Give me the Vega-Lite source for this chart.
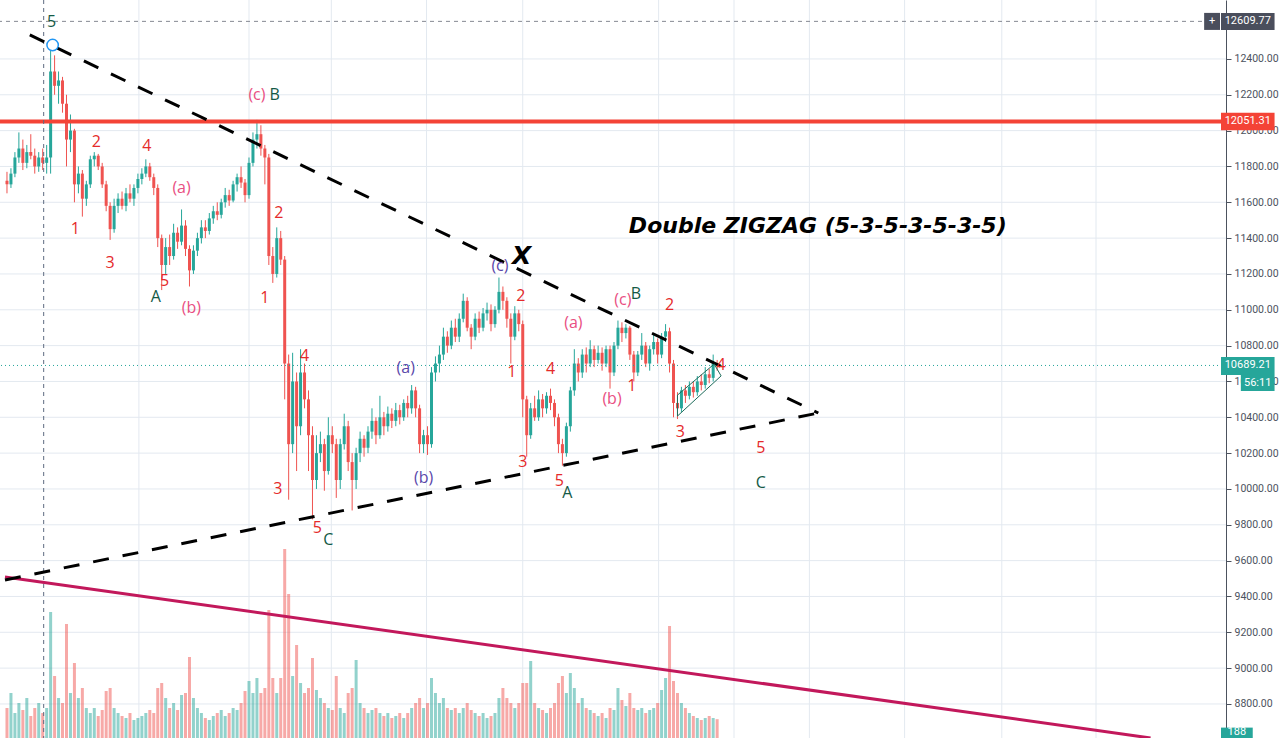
{
"$schema": "https://vega.github.io/schema/vega-lite/v6.json",
"width": 1226, "height": 738,
"padding": {"left": 0, "top": 0, "right": 54, "bottom": 0},
"autosize": {"type": "none"},
"background": "white",
"config": {"view": {"stroke": null}},
"datasets": {
"k": [
{"i":0,"o":11720,"h":11770,"l":11650,"c":11700,"v":300},
{"i":1,"o":11700,"h":11790,"l":11680,"c":11760,"v":450},
{"i":2,"o":11760,"h":11880,"l":11740,"c":11850,"v":250},
{"i":3,"o":11850,"h":11990,"l":11820,"c":11900,"v":350},
{"i":4,"o":11900,"h":11950,"l":11780,"c":11820,"v":280},
{"i":5,"o":11820,"h":11920,"l":11790,"c":11880,"v":400},
{"i":6,"o":11880,"h":11980,"l":11840,"c":11860,"v":220},
{"i":7,"o":11860,"h":11900,"l":11760,"c":11800,"v":300},
{"i":8,"o":11800,"h":11880,"l":11770,"c":11850,"v":350},
{"i":9,"o":11850,"h":11900,"l":11780,"c":11820,"v":250},
{"i":10,"o":11820,"h":11920,"l":11760,"c":11850,"v":300},
{"i":11,"o":11850,"h":12478,"l":11760,"c":12330,"v":1260},
{"i":12,"o":12330,"h":12420,"l":12200,"c":12250,"v":620},
{"i":13,"o":12250,"h":12330,"l":12150,"c":12280,"v":400},
{"i":14,"o":12280,"h":12300,"l":12100,"c":12150,"v":350},
{"i":15,"o":12150,"h":12200,"l":11800,"c":11950,"v":1140},
{"i":16,"o":11950,"h":12090,"l":11880,"c":12000,"v":450},
{"i":17,"o":12000,"h":12010,"l":11600,"c":11700,"v":750},
{"i":18,"o":11700,"h":11800,"l":11650,"c":11760,"v":400},
{"i":19,"o":11760,"h":11780,"l":11520,"c":11620,"v":500},
{"i":20,"o":11620,"h":11720,"l":11580,"c":11700,"v":300},
{"i":21,"o":11700,"h":11860,"l":11680,"c":11840,"v":250},
{"i":22,"o":11840,"h":11880,"l":11800,"c":11860,"v":300},
{"i":23,"o":11860,"h":11870,"l":11780,"c":11800,"v":220},
{"i":24,"o":11800,"h":11820,"l":11680,"c":11700,"v":280},
{"i":25,"o":11700,"h":11720,"l":11550,"c":11580,"v":470},
{"i":26,"o":11580,"h":11600,"l":11390,"c":11450,"v":500},
{"i":27,"o":11450,"h":11620,"l":11430,"c":11580,"v":300},
{"i":28,"o":11580,"h":11650,"l":11540,"c":11620,"v":250},
{"i":29,"o":11620,"h":11660,"l":11560,"c":11580,"v":220},
{"i":30,"o":11580,"h":11680,"l":11550,"c":11650,"v":200},
{"i":31,"o":11650,"h":11700,"l":11600,"c":11620,"v":250},
{"i":32,"o":11620,"h":11700,"l":11580,"c":11680,"v":180},
{"i":33,"o":11680,"h":11760,"l":11650,"c":11730,"v":200},
{"i":34,"o":11730,"h":11790,"l":11700,"c":11760,"v":220},
{"i":35,"o":11760,"h":11840,"l":11740,"c":11800,"v":250},
{"i":36,"o":11800,"h":11820,"l":11720,"c":11740,"v":280},
{"i":37,"o":11740,"h":11760,"l":11640,"c":11680,"v":250},
{"i":38,"o":11680,"h":11700,"l":11350,"c":11400,"v":500},
{"i":39,"o":11400,"h":11420,"l":11110,"c":11250,"v":550},
{"i":40,"o":11250,"h":11400,"l":11200,"c":11350,"v":400},
{"i":41,"o":11350,"h":11420,"l":11250,"c":11300,"v":300},
{"i":42,"o":11300,"h":11480,"l":11280,"c":11430,"v":350},
{"i":43,"o":11430,"h":11460,"l":11340,"c":11380,"v":280},
{"i":44,"o":11380,"h":11560,"l":11360,"c":11470,"v":430},
{"i":45,"o":11470,"h":11500,"l":11300,"c":11340,"v":450},
{"i":46,"o":11340,"h":11360,"l":11130,"c":11220,"v":810},
{"i":47,"o":11220,"h":11360,"l":11200,"c":11330,"v":400},
{"i":48,"o":11330,"h":11430,"l":11300,"c":11400,"v":300},
{"i":49,"o":11400,"h":11500,"l":11370,"c":11460,"v":250},
{"i":50,"o":11460,"h":11500,"l":11400,"c":11440,"v":200},
{"i":51,"o":11440,"h":11540,"l":11420,"c":11510,"v":180},
{"i":52,"o":11510,"h":11580,"l":11480,"c":11550,"v":220},
{"i":53,"o":11550,"h":11600,"l":11500,"c":11530,"v":250},
{"i":54,"o":11530,"h":11620,"l":11510,"c":11600,"v":280},
{"i":55,"o":11600,"h":11680,"l":11570,"c":11640,"v":220},
{"i":56,"o":11640,"h":11670,"l":11580,"c":11610,"v":250},
{"i":57,"o":11610,"h":11720,"l":11600,"c":11700,"v":300},
{"i":58,"o":11700,"h":11760,"l":11660,"c":11740,"v":280},
{"i":59,"o":11740,"h":11800,"l":11680,"c":11710,"v":350},
{"i":60,"o":11710,"h":11730,"l":11600,"c":11640,"v":470},
{"i":61,"o":11640,"h":11850,"l":11620,"c":11820,"v":570},
{"i":62,"o":11820,"h":11990,"l":11800,"c":11950,"v":450},
{"i":63,"o":11950,"h":12060,"l":11900,"c":11980,"v":600},
{"i":64,"o":11980,"h":12030,"l":11860,"c":11900,"v":450},
{"i":65,"o":11900,"h":11920,"l":11700,"c":11850,"v":500},
{"i":66,"o":11850,"h":11870,"l":11250,"c":11300,"v":1280},
{"i":67,"o":11300,"h":11350,"l":11150,"c":11200,"v":600},
{"i":68,"o":11200,"h":11460,"l":11180,"c":11400,"v":450},
{"i":69,"o":11400,"h":11440,"l":11250,"c":11280,"v":600},
{"i":70,"o":11280,"h":11300,"l":10500,"c":10700,"v":1890},
{"i":71,"o":10700,"h":10750,"l":9940,"c":10250,"v":1440},
{"i":72,"o":10250,"h":10760,"l":10200,"c":10600,"v":620},
{"i":73,"o":10600,"h":10650,"l":10100,"c":10350,"v":930},
{"i":74,"o":10350,"h":10780,"l":10300,"c":10650,"v":550},
{"i":75,"o":10650,"h":10700,"l":10450,"c":10500,"v":450},
{"i":76,"o":10500,"h":10550,"l":10100,"c":10300,"v":500},
{"i":77,"o":10300,"h":10350,"l":9830,"c":10050,"v":800},
{"i":78,"o":10050,"h":10300,"l":10000,"c":10200,"v":480},
{"i":79,"o":10200,"h":10320,"l":10150,"c":10250,"v":400},
{"i":80,"o":10250,"h":10280,"l":9990,"c":10100,"v":350},
{"i":81,"o":10100,"h":10400,"l":10080,"c":10300,"v":300},
{"i":82,"o":10300,"h":10350,"l":10200,"c":10250,"v":280},
{"i":83,"o":10250,"h":10280,"l":9950,"c":10050,"v":620},
{"i":84,"o":10050,"h":10280,"l":10000,"c":10250,"v":300},
{"i":85,"o":10250,"h":10420,"l":10220,"c":10350,"v":250},
{"i":86,"o":10350,"h":10380,"l":10100,"c":10150,"v":450},
{"i":87,"o":10150,"h":10200,"l":9880,"c":10050,"v":500},
{"i":88,"o":10050,"h":10230,"l":10000,"c":10200,"v":780},
{"i":89,"o":10200,"h":10320,"l":10150,"c":10280,"v":350},
{"i":90,"o":10280,"h":10300,"l":10180,"c":10230,"v":300},
{"i":91,"o":10230,"h":10350,"l":10200,"c":10320,"v":250},
{"i":92,"o":10320,"h":10450,"l":10280,"c":10380,"v":280},
{"i":93,"o":10380,"h":10400,"l":10250,"c":10300,"v":300},
{"i":94,"o":10300,"h":10520,"l":10280,"c":10400,"v":250},
{"i":95,"o":10400,"h":10430,"l":10300,"c":10350,"v":220},
{"i":96,"o":10350,"h":10460,"l":10320,"c":10420,"v":250},
{"i":97,"o":10420,"h":10450,"l":10340,"c":10380,"v":200},
{"i":98,"o":10380,"h":10480,"l":10350,"c":10440,"v":220},
{"i":99,"o":10440,"h":10470,"l":10360,"c":10400,"v":250},
{"i":100,"o":10400,"h":10500,"l":10380,"c":10480,"v":200},
{"i":101,"o":10480,"h":10520,"l":10400,"c":10450,"v":250},
{"i":102,"o":10450,"h":10580,"l":10420,"c":10550,"v":300},
{"i":103,"o":10550,"h":10570,"l":10400,"c":10450,"v":350},
{"i":104,"o":10450,"h":10470,"l":10200,"c":10250,"v":400},
{"i":105,"o":10250,"h":10330,"l":10200,"c":10300,"v":300},
{"i":106,"o":10300,"h":10350,"l":10190,"c":10250,"v":350},
{"i":107,"o":10250,"h":10680,"l":10230,"c":10650,"v":600},
{"i":108,"o":10650,"h":10740,"l":10600,"c":10700,"v":450},
{"i":109,"o":10700,"h":10800,"l":10650,"c":10750,"v":350},
{"i":110,"o":10750,"h":10900,"l":10720,"c":10850,"v":400},
{"i":111,"o":10850,"h":10880,"l":10760,"c":10800,"v":300},
{"i":112,"o":10800,"h":10940,"l":10780,"c":10900,"v":280},
{"i":113,"o":10900,"h":10950,"l":10820,"c":10850,"v":300},
{"i":114,"o":10850,"h":10980,"l":10820,"c":10950,"v":250},
{"i":115,"o":10950,"h":11090,"l":10930,"c":11050,"v":300},
{"i":116,"o":11050,"h":11070,"l":10880,"c":10900,"v":350},
{"i":117,"o":10900,"h":10920,"l":10780,"c":10850,"v":280},
{"i":118,"o":10850,"h":10980,"l":10830,"c":10950,"v":250},
{"i":119,"o":10950,"h":10990,"l":10870,"c":10900,"v":220},
{"i":120,"o":10900,"h":11010,"l":10880,"c":10980,"v":250},
{"i":121,"o":10980,"h":11040,"l":10940,"c":11000,"v":200},
{"i":122,"o":11000,"h":11030,"l":10880,"c":10920,"v":220},
{"i":123,"o":10920,"h":11020,"l":10900,"c":11000,"v":250},
{"i":124,"o":11000,"h":11180,"l":10980,"c":11100,"v":400},
{"i":125,"o":11100,"h":11130,"l":11000,"c":11050,"v":500},
{"i":126,"o":11050,"h":11070,"l":10900,"c":10950,"v":400},
{"i":127,"o":10950,"h":10980,"l":10700,"c":10850,"v":350},
{"i":128,"o":10850,"h":11020,"l":10830,"c":10980,"v":300},
{"i":129,"o":10980,"h":11000,"l":10880,"c":10920,"v":350},
{"i":130,"o":10920,"h":10940,"l":10400,"c":10500,"v":550},
{"i":131,"o":10500,"h":10520,"l":10180,"c":10300,"v":550},
{"i":132,"o":10300,"h":10480,"l":10280,"c":10450,"v":770},
{"i":133,"o":10450,"h":10520,"l":10380,"c":10400,"v":350},
{"i":134,"o":10400,"h":10550,"l":10380,"c":10500,"v":300},
{"i":135,"o":10500,"h":10530,"l":10400,"c":10450,"v":280},
{"i":136,"o":10450,"h":10540,"l":10420,"c":10520,"v":250},
{"i":137,"o":10520,"h":10560,"l":10440,"c":10480,"v":300},
{"i":138,"o":10480,"h":10500,"l":10350,"c":10400,"v":350},
{"i":139,"o":10400,"h":10420,"l":10200,"c":10250,"v":550},
{"i":140,"o":10250,"h":10280,"l":10130,"c":10200,"v":620},
{"i":141,"o":10200,"h":10370,"l":10180,"c":10350,"v":450},
{"i":142,"o":10350,"h":10570,"l":10320,"c":10550,"v":650},
{"i":143,"o":10550,"h":10780,"l":10520,"c":10700,"v":500},
{"i":144,"o":10700,"h":10730,"l":10600,"c":10650,"v":350},
{"i":145,"o":10650,"h":10780,"l":10620,"c":10750,"v":400},
{"i":146,"o":10750,"h":10790,"l":10650,"c":10700,"v":300},
{"i":147,"o":10700,"h":10830,"l":10680,"c":10780,"v":280},
{"i":148,"o":10780,"h":10800,"l":10680,"c":10720,"v":250},
{"i":149,"o":10720,"h":10800,"l":10700,"c":10760,"v":220},
{"i":150,"o":10760,"h":10790,"l":10660,"c":10700,"v":250},
{"i":151,"o":10700,"h":10800,"l":10680,"c":10780,"v":200},
{"i":152,"o":10780,"h":10800,"l":10560,"c":10650,"v":300},
{"i":153,"o":10650,"h":10820,"l":10630,"c":10800,"v":280},
{"i":154,"o":10800,"h":10940,"l":10780,"c":10900,"v":500},
{"i":155,"o":10900,"h":10930,"l":10820,"c":10870,"v":380},
{"i":156,"o":10870,"h":10920,"l":10840,"c":10900,"v":320},
{"i":157,"o":10900,"h":10910,"l":10720,"c":10750,"v":450},
{"i":158,"o":10750,"h":10770,"l":10600,"c":10650,"v":300},
{"i":159,"o":10650,"h":10770,"l":10630,"c":10750,"v":280},
{"i":160,"o":10750,"h":10870,"l":10720,"c":10800,"v":300},
{"i":161,"o":10800,"h":10820,"l":10680,"c":10700,"v":250},
{"i":162,"o":10700,"h":10800,"l":10660,"c":10780,"v":280},
{"i":163,"o":10780,"h":10860,"l":10750,"c":10820,"v":300},
{"i":164,"o":10820,"h":10840,"l":10700,"c":10750,"v":350},
{"i":165,"o":10750,"h":10870,"l":10730,"c":10850,"v":480},
{"i":166,"o":10850,"h":10920,"l":10820,"c":10880,"v":600},
{"i":167,"o":10880,"h":10900,"l":10650,"c":10700,"v":1120},
{"i":168,"o":10700,"h":10720,"l":10400,"c":10480,"v":570},
{"i":169,"o":10480,"h":10540,"l":10390,"c":10450,"v":450},
{"i":170,"o":10450,"h":10570,"l":10430,"c":10550,"v":350},
{"i":171,"o":10550,"h":10580,"l":10480,"c":10520,"v":300},
{"i":172,"o":10520,"h":10600,"l":10500,"c":10570,"v":250},
{"i":173,"o":10570,"h":10600,"l":10510,"c":10540,"v":220},
{"i":174,"o":10540,"h":10630,"l":10520,"c":10600,"v":200},
{"i":175,"o":10600,"h":10640,"l":10550,"c":10580,"v":180},
{"i":176,"o":10580,"h":10680,"l":10560,"c":10640,"v":200},
{"i":177,"o":10640,"h":10670,"l":10590,"c":10620,"v":220},
{"i":178,"o":10620,"h":10750,"l":10600,"c":10700,"v":200},
{"i":179,"o":10700,"h":10720,"l":10660,"c":10689.21,"v":188}
],
"labels": [
{"i":11.25,"p":12606,"t":"5","g":"major"},
{"i":63,"p":12199,"t":"(c)","g":"sub"},
{"i":67.5,"p":12199,"t":"B","g":"major"},
{"i":22.5,"p":11936,"t":"2","g":"minor"},
{"i":35.25,"p":11914,"t":"4","g":"minor"},
{"i":44,"p":11680,"t":"(a)","g":"sub"},
{"i":17.25,"p":11451,"t":"1","g":"minor"},
{"i":26,"p":11261,"t":"3","g":"minor"},
{"i":39.75,"p":11160,"t":"5","g":"minor"},
{"i":37.5,"p":11070,"t":"A","g":"major"},
{"i":46.5,"p":11010,"t":"(b)","g":"sub"},
{"i":68.5,"p":11540,"t":"2","g":"minor"},
{"i":65,"p":11066,"t":"1","g":"minor"},
{"i":75,"p":10742,"t":"4","g":"minor"},
{"i":68.25,"p":10000,"t":"3","g":"minor"},
{"i":78.25,"p":9782,"t":"5","g":"minor"},
{"i":81,"p":9715,"t":"C","g":"major"},
{"i":100.5,"p":10675,"t":"(a)","g":"inter"},
{"i":105,"p":10061,"t":"(b)","g":"inter"},
{"i":124.25,"p":11244,"t":"(c)","g":"inter"},
{"i":129.5,"p":11077,"t":"2","g":"minor"},
{"i":127.25,"p":10653,"t":"1","g":"minor"},
{"i":137,"p":10670,"t":"4","g":"minor"},
{"i":130,"p":10151,"t":"3","g":"minor"},
{"i":139.25,"p":10045,"t":"5","g":"minor"},
{"i":141.25,"p":9978,"t":"A","g":"major"},
{"i":142.75,"p":10926,"t":"(a)","g":"sub"},
{"i":152.5,"p":10502,"t":"(b)","g":"sub"},
{"i":155.25,"p":11055,"t":"(c)","g":"sub"},
{"i":158.5,"p":11088,"t":"B","g":"major"},
{"i":157.5,"p":10575,"t":"1","g":"minor"},
{"i":167,"p":11027,"t":"2","g":"minor"},
{"i":169.75,"p":10318,"t":"3","g":"minor"},
{"i":180,"p":10692,"t":"4","g":"minor"},
{"i":190,"p":10229,"t":"5","g":"minor"},
{"i":190,"p":10033,"t":"C","g":"major"}
],
"tags": [
{"a":301.75,"b":305.75,"p1":12657,"p2":12562,"xm":303.75,"pm":12609.77,"t":"+","k":"dark"},
{"a":306,"b":319.5,"p1":12657,"p2":12562,"xm":312.75,"pm":12609.77,"t":"12609.77","k":"dark"},
{"a":306,"b":319.5,"p1":12100,"p2":12002,"xm":312.75,"pm":12051.31,"t":"12051.31","k":"red"},
{"a":306,"b":319.5,"p1":10737,"p2":10636,"xm":312.75,"pm":10689.21,"t":"10689.21","k":"teal"},
{"a":311,"b":319.5,"p1":10636,"p2":10547,"xm":315.25,"pm":10592,"t":"56:11","k":"teal"},
{"a":306,"b":314,"p1":8668,"p2":8590,"xm":310,"pm":8642,"t":"188","k":"teal"}
],
"hgrid": [{"p":8800},{"p":9000},{"p":9200},{"p":9400},{"p":9600},{"p":9800},{"p":10000},{"p":10200},{"p":10400},{"p":10600},{"p":10800},{"p":11000},{"p":11200},{"p":11400},{"p":11600},{"p":11800},{"p":12000},{"p":12200},{"p":12400}],
"vgrid": [{"i":33.25},{"i":61},{"i":81.75},{"i":105.75},{"i":130},{"i":164.25},{"i":183.25},{"i":202.25},{"i":226.25},{"i":250.75},{"i":274.5}]
},
"layer": [
{
"data": {"name": "hgrid"},
"mark": {"type": "rule", "color": "#e3e9f0", "strokeWidth": 1},
"encoding": {"y": {"field": "p", "type": "quantitative", "scale": {"domain": [8610, 12729], "nice": false, "zero": false}, "axis": null}}
},
{
"data": {"name": "vgrid"},
"mark": {"type": "rule", "color": "#e3e9f0", "strokeWidth": 1},
"encoding": {"x": {"field": "i", "type": "quantitative", "scale": {"domain": [-0.5, 306], "nice": false, "zero": false},
"axis": {"labels": false, "ticks": false, "grid": false, "domain": true, "domainColor": "#4c525e", "domainWidth": 2, "offset": -1, "title": null}}}
},
{
"data": {"name": "k"},
"mark": {"type": "bar", "size": 3},
"encoding": {
"x": {"field": "i", "type": "quantitative", "scale": {"domain": [-0.5, 306], "nice": false, "zero": false}, "axis": null},
"y": {"field": "v", "type": "quantitative", "scale": {"domain": [0, 7380], "nice": false}, "axis": null},
"color": {"condition": {"test": "datum.c >= datum.o", "value": "#26a69a"}, "value": "#ef5350"},
"opacity": {"value": 0.5}
}
},
{
"data": {"name": "k"},
"mark": {"type": "rule", "strokeWidth": 1},
"encoding": {
"x": {"field": "i", "type": "quantitative", "scale": {"domain": [-0.5, 306], "nice": false, "zero": false}, "axis": null},
"y": {"field": "l", "type": "quantitative", "scale": {"domain": [8610, 12729], "nice": false, "zero": false},
"axis": {"orient": "right", "values": [8800, 9000, 9200, 9400, 9600, 9800, 10000, 10200, 10400, 10600, 10800, 11000, 11200, 11400, 11600, 11800, 12000, 12200, 12400], "format": ".2f", "grid": false, "domain": true, "domainColor": "#4c525e", "tickColor": "#4c525e", "tickSize": 5, "labelPadding": 3, "labelColor": "#4c525e", "labelFont": "Roboto", "labelFontSize": 10.5, "labelOverlap": false, "labelFlush": false, "title": null}},
"y2": {"field": "h"},
"color": {"condition": {"test": "datum.c >= datum.o", "value": "#26a69a"}, "value": "#ef5350"}
}
},
{
"data": {"name": "k"},
"mark": {"type": "bar", "size": 3},
"encoding": {
"x": {"field": "i", "type": "quantitative", "scale": {"domain": [-0.5, 306], "nice": false, "zero": false}, "axis": null},
"y": {"field": "o", "type": "quantitative", "scale": {"domain": [8610, 12729], "nice": false, "zero": false}, "axis": null},
"y2": {"field": "c"},
"color": {"condition": {"test": "datum.c >= datum.o", "value": "#26a69a"}, "value": "#ef5350"}
}
},
{
"data": {"values": [{"i": -0.5, "p": 9509}, {"i": 288.25, "p": 8610}]},
"mark": {"type": "line", "color": "#c2185b", "strokeWidth": 3},
"encoding": {
"x": {"field": "i", "type": "quantitative", "scale": {"domain": [-0.5, 306], "nice": false, "zero": false}, "axis": null},
"y": {"field": "p", "type": "quantitative", "scale": {"domain": [8610, 12729], "nice": false, "zero": false}, "axis": null}
}
},
{
"data": {"values": [{"p": 12051.31}]},
"mark": {"type": "rule", "color": "#f44336", "strokeWidth": 4},
"encoding": {"y": {"field": "p", "type": "quantitative", "scale": {"domain": [8610, 12729], "nice": false, "zero": false}, "axis": null}}
},
{
"data": {"values": [{"p": 12609.77}]},
"mark": {"type": "rule", "color": "#868993", "strokeWidth": 1, "strokeDash": [4, 4]},
"encoding": {"y": {"field": "p", "type": "quantitative", "scale": {"domain": [8610, 12729], "nice": false, "zero": false}, "axis": null}}
},
{
"data": {"values": [{"p": 10689.21}]},
"mark": {"type": "rule", "color": "#26a69a", "strokeWidth": 1, "strokeDash": [1, 3]},
"encoding": {"y": {"field": "p", "type": "quantitative", "scale": {"domain": [8610, 12729], "nice": false, "zero": false}, "axis": null}}
},
{
"data": {"values": [{"i": 9.25}]},
"mark": {"type": "rule", "color": "#5d6b80", "strokeWidth": 1, "strokeDash": [4, 4]},
"encoding": {"x": {"field": "i", "type": "quantitative", "scale": {"domain": [-0.5, 306], "nice": false, "zero": false}, "axis": null}}
},
{
"data": {"values": [{"i": 5.75, "p": 12534}, {"i": 204.5, "p": 10424}]},
"mark": {"type": "line", "color": "black", "strokeWidth": 3, "strokeDash": [16, 14]},
"encoding": {
"x": {"field": "i", "type": "quantitative", "scale": {"domain": [-0.5, 306], "nice": false, "zero": false}, "axis": null},
"y": {"field": "p", "type": "quantitative", "scale": {"domain": [8610, 12729], "nice": false, "zero": false}, "axis": null}
}
},
{
"data": {"values": [{"i": -0.5, "p": 9492}, {"i": 204.5, "p": 10424}]},
"mark": {"type": "line", "color": "black", "strokeWidth": 3, "strokeDash": [16, 14]},
"encoding": {
"x": {"field": "i", "type": "quantitative", "scale": {"domain": [-0.5, 306], "nice": false, "zero": false}, "axis": null},
"y": {"field": "p", "type": "quantitative", "scale": {"domain": [8610, 12729], "nice": false, "zero": false}, "axis": null}
}
},
{
"data": {"values": [{"i": 169, "p": 10407, "n": 1}, {"i": 180, "p": 10631, "n": 2}, {"i": 178.25, "p": 10697, "n": 3}, {"i": 169, "p": 10524, "n": 4}, {"i": 169, "p": 10407, "n": 5}]},
"mark": {"type": "line", "color": "#1d6b5a", "strokeWidth": 1},
"encoding": {
"x": {"field": "i", "type": "quantitative", "scale": {"domain": [-0.5, 306], "nice": false, "zero": false}, "axis": null},
"y": {"field": "p", "type": "quantitative", "scale": {"domain": [8610, 12729], "nice": false, "zero": false}, "axis": null},
"order": {"field": "n", "type": "quantitative"}
}
},
{
"data": {"values": [{"i": 11.5, "p": 12478}]},
"mark": {"type": "point", "shape": "circle", "size": 130, "filled": false, "fill": "white", "fillOpacity": 1, "stroke": "#2196f3", "strokeWidth": 1.5, "opacity": 1},
"encoding": {
"x": {"field": "i", "type": "quantitative", "scale": {"domain": [-0.5, 306], "nice": false, "zero": false}, "axis": null},
"y": {"field": "p", "type": "quantitative", "scale": {"domain": [8610, 12729], "nice": false, "zero": false}, "axis": null}
}
},
{
"data": {"name": "labels"},
"mark": {"type": "text", "font": "Open Sans", "fontSize": 16, "align": "center", "baseline": "middle"},
"encoding": {
"x": {"field": "i", "type": "quantitative", "scale": {"domain": [-0.5, 306], "nice": false, "zero": false}, "axis": null},
"y": {"field": "p", "type": "quantitative", "scale": {"domain": [8610, 12729], "nice": false, "zero": false}, "axis": null},
"text": {"field": "t"},
"color": {"field": "g", "type": "nominal", "legend": null, "scale": {"domain": ["minor", "sub", "inter", "major"], "range": ["#e52a2a", "#e94f82", "#5a47aa", "#145a46"]}}
}
},
{
"data": {"values": [{"i": 129.75, "p": 11300, "t": "X"}]},
"mark": {"type": "text", "font": "DejaVu Sans", "fontSize": 25, "fontWeight": "bold", "fontStyle": "italic", "align": "center", "baseline": "middle", "color": "black"},
"encoding": {
"x": {"field": "i", "type": "quantitative", "scale": {"domain": [-0.5, 306], "nice": false, "zero": false}, "axis": null},
"y": {"field": "p", "type": "quantitative", "scale": {"domain": [8610, 12729], "nice": false, "zero": false}, "axis": null},
"text": {"field": "t"}
}
},
{
"data": {"values": [{"i": 156.75, "p": 11468, "t": "Double ZIGZAG (5-3-5-3-5-3-5)"}]},
"mark": {"type": "text", "font": "DejaVu Sans", "fontSize": 22, "fontWeight": "bold", "fontStyle": "italic", "align": "left", "baseline": "middle", "color": "black"},
"encoding": {
"x": {"field": "i", "type": "quantitative", "scale": {"domain": [-0.5, 306], "nice": false, "zero": false}, "axis": null},
"y": {"field": "p", "type": "quantitative", "scale": {"domain": [8610, 12729], "nice": false, "zero": false}, "axis": null},
"text": {"field": "t"}
}
},
{
"data": {"name": "tags"},
"mark": {"type": "rect", "clip": false},
"encoding": {
"x": {"field": "a", "type": "quantitative", "scale": {"domain": [-0.5, 306], "nice": false, "zero": false}, "axis": null},
"x2": {"field": "b"},
"y": {"field": "p1", "type": "quantitative", "scale": {"domain": [8610, 12729], "nice": false, "zero": false}, "axis": null},
"y2": {"field": "p2"},
"fill": {"field": "k", "type": "nominal", "legend": null, "scale": {"domain": ["dark", "red", "teal"], "range": ["#4a4e5c", "#f44336", "#26a69a"]}}
}
},
{
"data": {"name": "tags"},
"mark": {"type": "text", "clip": false, "font": "Roboto", "fontSize": 11, "color": "white", "align": "center", "baseline": "middle"},
"encoding": {
"x": {"field": "xm", "type": "quantitative", "scale": {"domain": [-0.5, 306], "nice": false, "zero": false}, "axis": null},
"y": {"field": "pm", "type": "quantitative", "scale": {"domain": [8610, 12729], "nice": false, "zero": false}, "axis": null},
"text": {"field": "t"}
}
}
],
"resolve": {"scale": {"y": "independent", "color": "independent", "fill": "independent"}}
}
